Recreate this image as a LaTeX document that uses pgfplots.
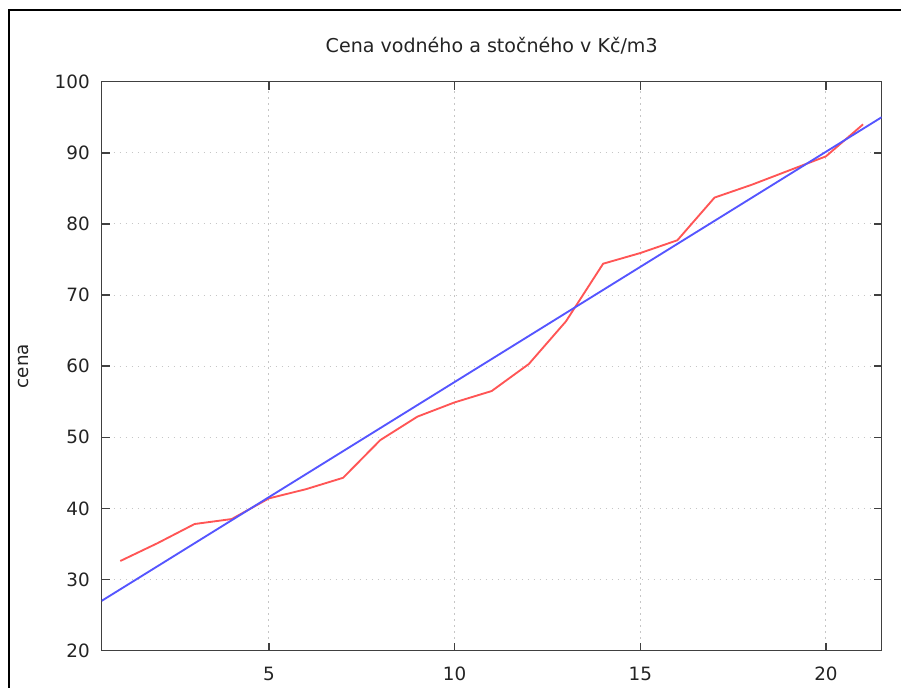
\documentclass[border=0pt]{standalone}
\usepackage{pgfplots}
\pgfplotsset{compat=1.18}
\usepackage{fontspec}
\setmainfont{DejaVu Sans}
\definecolor{linered}{RGB}{255,85,85}
\definecolor{lineblue}{RGB}{85,85,255}
\definecolor{axisgray}{RGB}{64,64,64}
\definecolor{textgray}{RGB}{35,35,35}
\begin{document}
\begin{tikzpicture}[font=\fontsize{13.75}{16}\selectfont]
\begin{axis}[
  scale only axis,
  width=585pt, height=426.75pt,
  at={(0,0)}, anchor=south west,
  xmin=0.5, xmax=21.5, ymin=20, ymax=100,
  xtick={5,10,15,20}, ytick={20,30,...,100},
  tick align=inside, major tick length=6pt,
  axis line style={axisgray, line width=1.1pt},
  every tick/.style={axisgray, line width=1.1pt},
  grid=major,
  major grid style={gray!45, line width=0.7pt, dash pattern=on 1pt off 3.5pt},
  /pgf/number format/assume math mode=true,
  ticklabel style={text=textgray},
  yticklabel style={xshift=-5.5pt},
  xticklabel style={yshift=-8.5pt},
  title={Cena vodného a stočného v Kč/m3},
  title style={at={(axis description cs:0.5,1.0487)}, anchor=center, text=textgray, font=\fontsize{14.3}{17}\selectfont},
  ylabel={cena},
  ylabel style={at={(axis description cs:-0.1009,0.5)}, anchor=center, text=textgray},
]
\addplot[linered, line width=1.4pt] coordinates {
(1,32.6) (2,35.1) (3,37.8) (4,38.5) (5,41.4) (6,42.7) (7,44.3)
(8,49.6) (9,52.9) (10,54.9) (11,56.5) (12,60.3) (13,66.3) (14,74.4)
(15,75.9) (16,77.7) (17,83.7) (18,85.5) (19,87.5) (20,89.5) (21,94.0)
};
\addplot[lineblue, line width=1.4pt] coordinates {(0.5,27.0) (21.5,95.0)};
\end{axis}
\draw[black, line width=1.6pt] (-69.5pt,-40pt) -- (-69.5pt,480.5pt) -- (640pt,480.5pt);
\pgfresetboundingbox
\path[use as bounding box] (-76.3pt,-28pt) rectangle (599.5pt,488pt);
\end{tikzpicture}
\end{document}
